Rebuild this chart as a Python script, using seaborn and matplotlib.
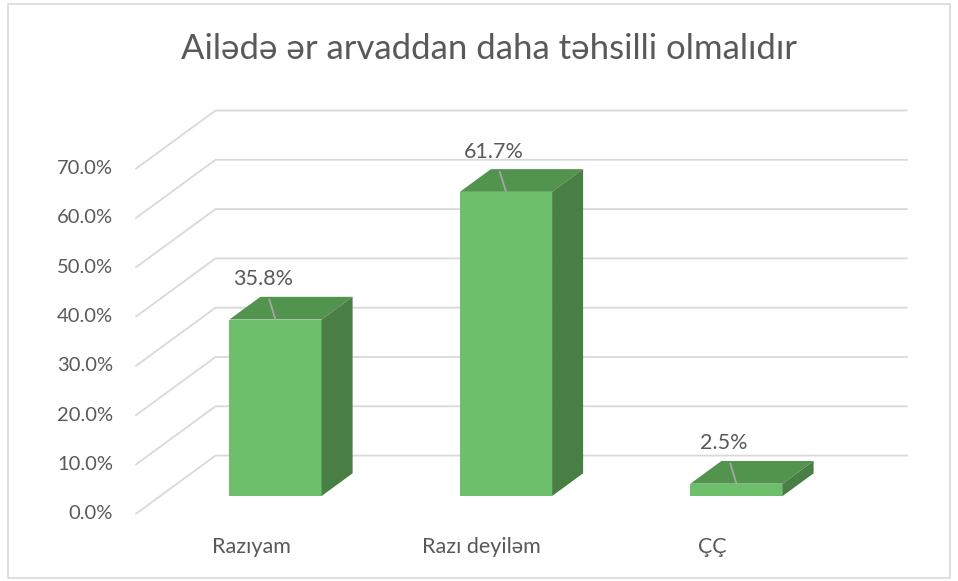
import numpy as np
import pandas as pd
import seaborn as sns
import matplotlib.pyplot as plt
from matplotlib.patches import Polygon, Rectangle

# data
categories = ['Razıyam', 'Razı deyiləm', 'ÇÇ']
values = [35.8, 61.7, 2.5]
yticks = [0, 10, 20, 30, 40, 50, 60, 70]
title = 'Ailədə ər arvaddan daha təhsilli olmalıdır'

front_col = '#6ebf6b'
top_col = '#52934e'
side_col = '#497e44'
grid_col = '#d9d9d9'
text_col = '#595959'

# fake 3D: depth of the floor in data units (x in categories, y in %)
DEPTH = np.array([0.345, 11.8])
BAR_DEPTH = 0.39
front_off = -(1 - BAR_DEPTH) / 2 * DEPTH
back_off = (1 + BAR_DEPTH) / 2 * DEPTH

df = pd.DataFrame({'cavab': categories, 'faiz': values})

sns.set_theme(style='white')
plt.rcParams['font.family'] = ['Lato', 'DejaVu Sans']

fig = plt.figure(figsize=(9.58, 5.81), dpi=100)
ax = fig.add_axes([0.059, 0.0275, 0.9143, 0.7976])

sns.barplot(data=df, x='cavab', y='faiz', color=front_col, saturation=1,
            width=0.4, ax=ax, zorder=3, linewidth=0)

# gridlines: front diagonal + back wall
for v in yticks:
    ax.plot([-0.5 + front_off[0], -0.5 + back_off[0], 2.5 + back_off[0]],
            [v + front_off[1], v + back_off[1], v + back_off[1]],
            color=grid_col, lw=1.3, zorder=1, clip_on=False)
    ax.text(-0.5 + front_off[0] - 0.1, v + front_off[1], f'{v:.1f}%',
            ha='right', va='center', color=text_col, fontsize=14.5)

# top and side faces of the bars
dx, dy = BAR_DEPTH * DEPTH
for p, v in zip(ax.patches, values):
    x0, w, h = p.get_x(), p.get_width(), p.get_height()
    top = Polygon([(x0, h), (x0 + w, h), (x0 + w + dx, h + dy), (x0 + dx, h + dy)],
                  closed=True, facecolor=top_col, edgecolor='none', zorder=3)
    side = Polygon([(x0 + w, 0), (x0 + w, h), (x0 + w + dx, h + dy), (x0 + w + dx, dy)],
                   closed=True, facecolor=side_col, edgecolor='none', zorder=3)
    ax.add_patch(top)
    ax.add_patch(side)
    ax.annotate(f'{v}%', xy=(x0 + w / 2, h), xytext=(-9, 29), textcoords='offset points',
                ha='center', va='center', color=text_col, fontsize=15.5, zorder=5,
                arrowprops=dict(arrowstyle='-', color='#a6a6a6', lw=1.3, shrinkA=5, shrinkB=0))

# category labels on the front edge
for i, c in enumerate(categories):
    ax.text(i + front_off[0], front_off[1] - 6.7, c, ha='center', va='center',
            color=text_col, fontsize=15.5)

ax.set_xlim(-0.95, 2.85)
ax.set_ylim(-14, 80)
ax.set_axis_off()

fig.text(0.51, 1 - 49 / 581, title, ha='center', va='center', color=text_col, fontsize=25)
fig.patches.append(Rectangle((8 / 958, 3 / 581), 942 / 958, 574 / 581, transform=fig.transFigure,
                             fill=False, edgecolor=grid_col, lw=1.2))

fig.savefig('out.png', dpi=100)
